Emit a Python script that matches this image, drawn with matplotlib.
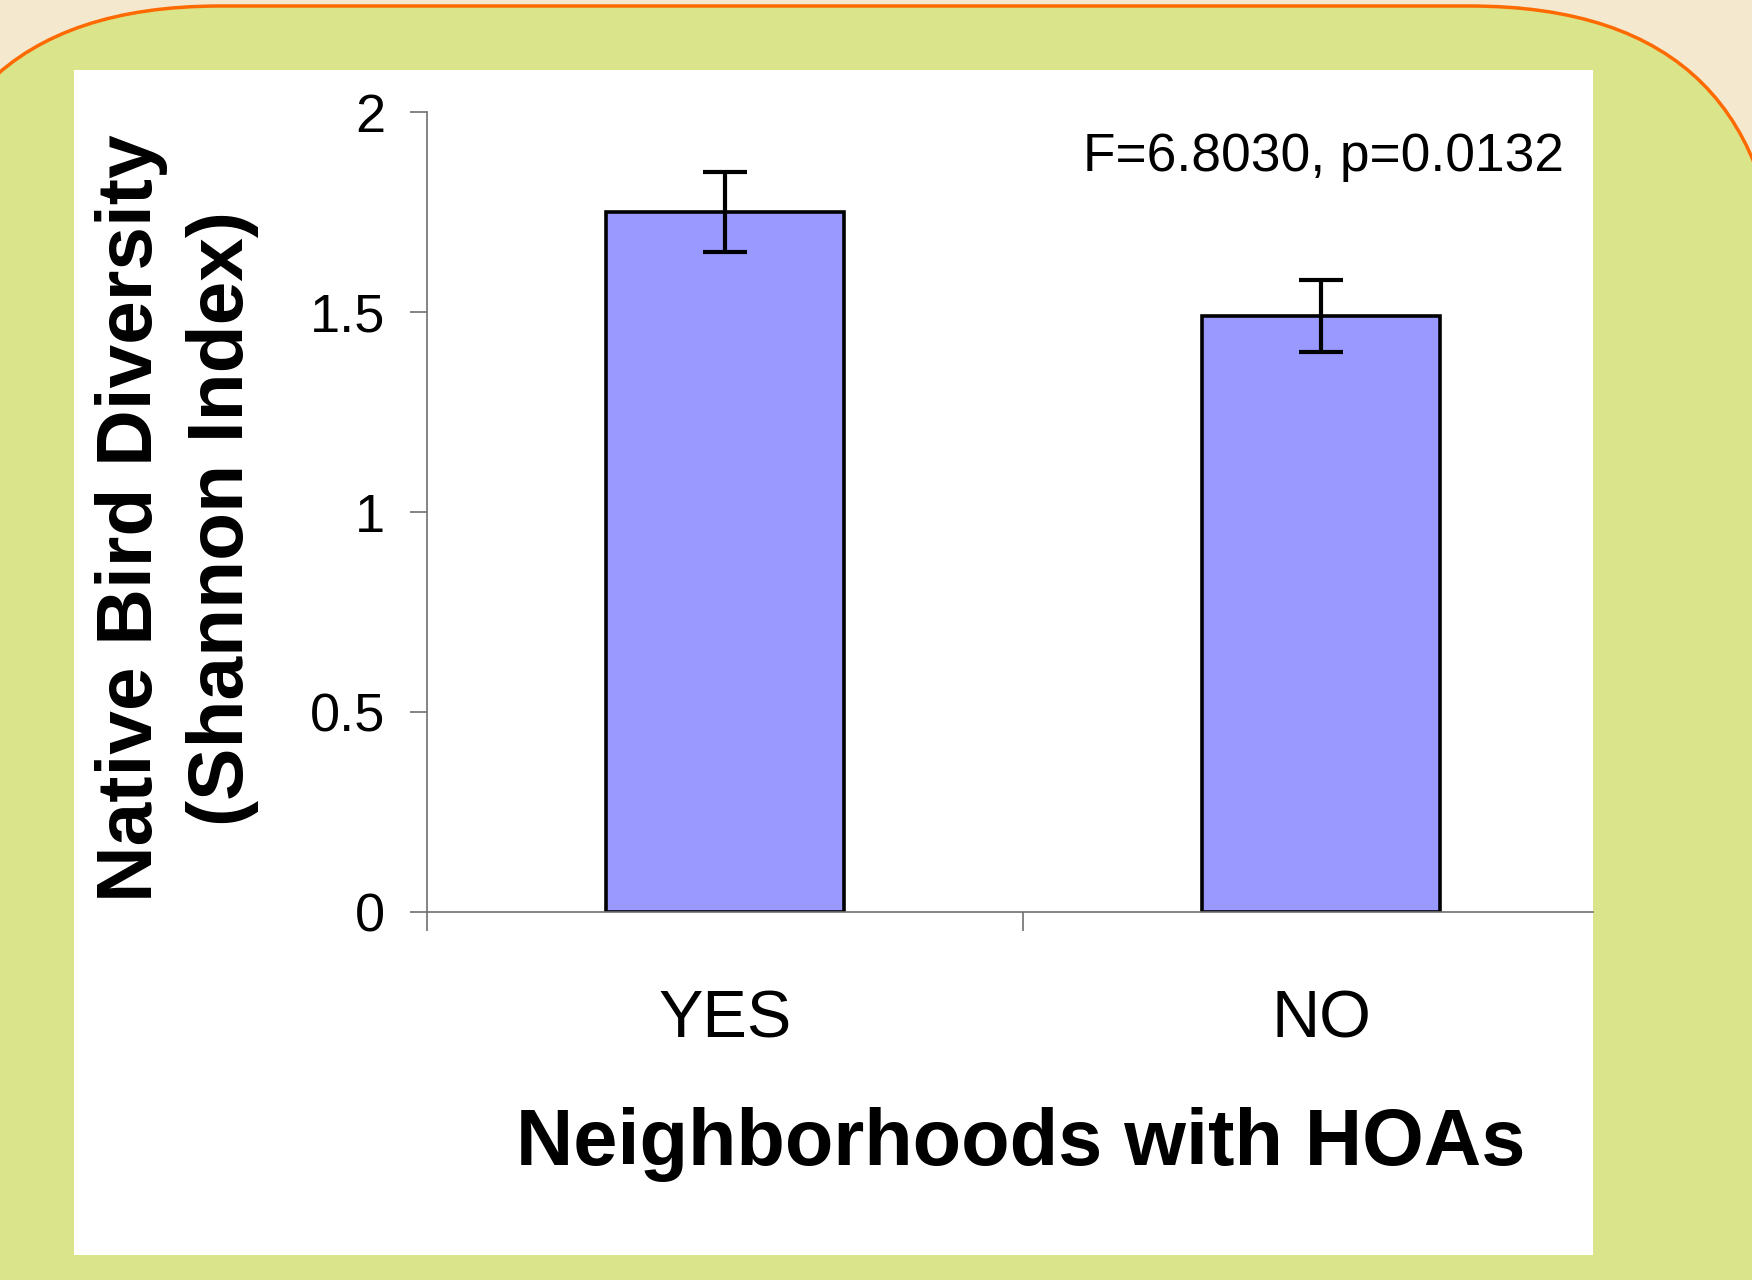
import matplotlib.pyplot as plt
from matplotlib.patches import FancyBboxPatch, Rectangle

# dati
categorie = ["YES", "NO"]
diversita = [1.75, 1.49]
errori = [0.10, 0.09]
yticks = [0, 0.5, 1, 1.5, 2]
ytick_labels = ["0", "0.5", "1", "1.5", "2"]
stat_text = "F=6.8030, p=0.0132"

plt.rcParams["font.family"] = ["Liberation Sans", "DejaVu Sans"]

fig = plt.figure(figsize=(17.52, 12.80), dpi=100)

# sfondo: carta beige, riquadro verde arrotondato, pannello bianco
bg = fig.add_axes([0, 0, 1, 1], zorder=-1)
bg.set_xlim(0, 1752)
bg.set_ylim(1280, 0)
bg.axis("off")
bg.add_patch(Rectangle((0, 0), 1752, 1280, facecolor="#f4e8cf", edgecolor="none"))
bg.add_patch(FancyBboxPatch((-90, 6), 1870, 1500,
                            boxstyle="round,pad=0,rounding_size=310",
                            facecolor="#d9e48b", edgecolor="#ff6a00", linewidth=2.5))
bg.add_patch(Rectangle((74, 70), 1519, 1185, facecolor="white", edgecolor="none"))

# grafico a barre
ax = fig.add_axes([427 / 1752, 368 / 1280, 1166 / 1752, 800 / 1280])
ax.patch.set_alpha(0)
x = list(range(len(categorie)))
ax.bar(x, diversita, width=0.4, color="#9999ff", edgecolor="black", linewidth=2.6, zorder=2)
ax.errorbar(x, diversita, yerr=errori, fmt="none", ecolor="black",
            elinewidth=3, capsize=15.5, capthick=3, zorder=3)

ax.set_xlim(-0.5, 1.456)
ax.set_ylim(0, 2)
ax.set_yticks(yticks)
ax.set_yticklabels(ytick_labels, fontsize=39)
ax.set_xticks(x)
ax.set_xticklabels(categorie, fontsize=48)
ax.set_xticks([-0.5, 0.5], minor=True)
ax.tick_params(axis="x", which="major", length=0, pad=56)
ax.tick_params(axis="x", which="minor", length=14, width=1.2, color="#707070", direction="out")
ax.tick_params(axis="y", length=12, width=1.2, color="#707070", direction="out", pad=18)

for s in ["top", "right"]:
    ax.spines[s].set_visible(False)
for s in ["left", "bottom"]:
    ax.spines[s].set_color("#707070")
    ax.spines[s].set_linewidth(1.2)

ax.text(1564 / 1752, 1109 / 1280, stat_text, transform=fig.transFigure,
        ha="right", va="baseline", fontsize=38.3)

fig.text(1021 / 1752, 115 / 1280, "Neighborhoods with HOAs", ha="center", va="baseline",
         fontsize=57.2, fontweight="bold")
fig.text(177 / 1752, 762 / 1280, "Native Bird Diversity\n(Shannon Index)", rotation=90,
         ha="center", va="center", multialignment="center", linespacing=1.32,
         fontsize=56.5, fontweight="bold")

plt.savefig("out.png", dpi=100)
